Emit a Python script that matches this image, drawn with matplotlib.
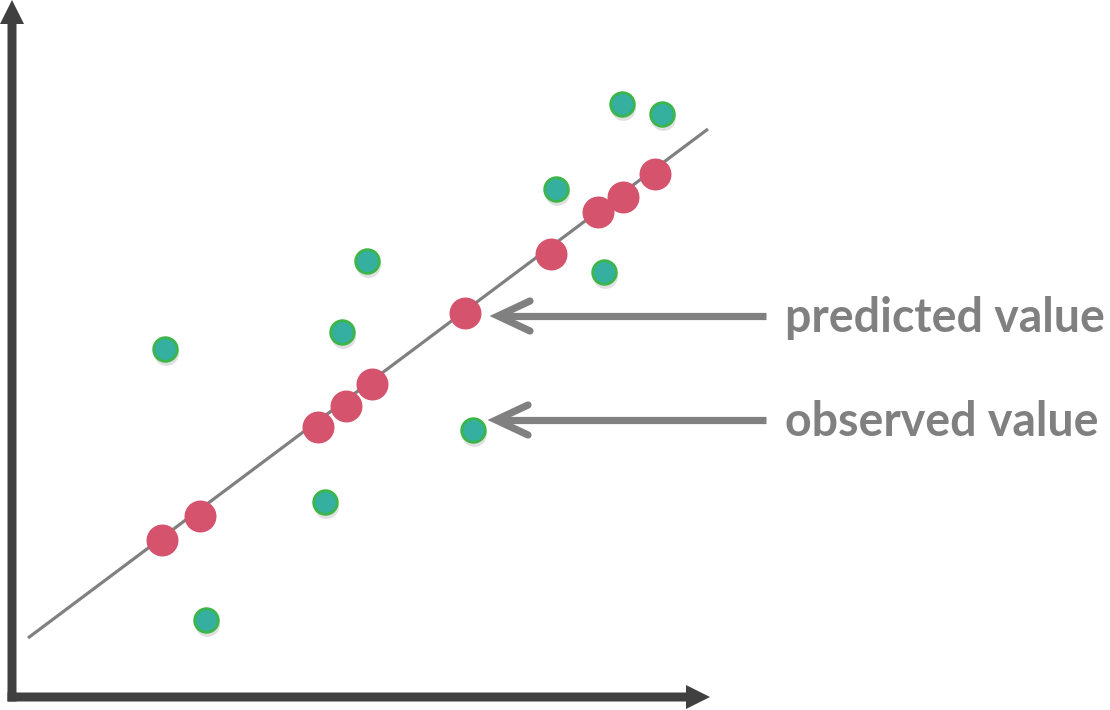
import matplotlib.pyplot as plt

# predicted values (on the regression line)
pred_x = [150, 188, 306, 334, 360, 453, 539, 586, 611, 643]
pred_y = [157, 181, 270, 291, 313, 384, 443, 485, 500, 523]

# observed values
obs_x = [153, 194, 313, 330, 355, 461, 544, 592, 610, 650]
obs_y = [348, 77, 195, 365, 436, 267, 508, 425, 593, 583]

# regression line end points
line_x = [16, 696]
line_y = [59, 568]

labels = ["predicted value", "observed value"]

axis_col = "#404040"
gray = "#808080"

fig = plt.figure(figsize=(11.1, 7.1), dpi=100)
ax = fig.add_axes([0, 0, 1, 1])
ax.set_xlim(-12, 1098)
ax.set_ylim(-13, 697)
ax.axis("off")

# axes with arrow heads
ax.arrow(-4.5, 0, 702.5, 0, width=9, head_width=24, head_length=24,
         length_includes_head=True, color=axis_col, lw=0)
ax.arrow(0, -4.5, 0, 701.5, width=9, head_width=24, head_length=24,
         length_includes_head=True, color=axis_col, lw=0)

# regression line
ax.plot(line_x, line_y, color=gray, lw=2.3, solid_capstyle="butt", zorder=2)

# predicted points
ax.scatter(pred_x, pred_y, s=530, color="#d5536d", lw=0, zorder=3)

# observed points, with a soft shadow
ax.scatter([x + 1 for x in obs_x], [y - 4 for y in obs_y], s=320,
           color="#000000", alpha=0.12, lw=0, zorder=3)
ax.scatter(obs_x, obs_y, s=290, color="#35b0a0", edgecolor="#3cb54a",
           lw=2.0, zorder=4)

# annotation arrows and labels
for lab, y, tip in [(labels[0], 381, 486), (labels[1], 277, 484)]:
    ax.plot([754, tip + 2], [y, y], color=gray, lw=5.2,
            solid_capstyle="butt", zorder=2)
    ax.plot([tip + 32, tip, tip + 32], [y + 15, y, y - 15], color=gray,
            lw=5.2, solid_capstyle="round", solid_joinstyle="miter", zorder=2)
    ax.text(773, y - 16, lab, color=gray, fontsize=33.5, fontweight="bold",
            family="Lato", va="baseline", ha="left")

fig.savefig("out.png", dpi=100)
